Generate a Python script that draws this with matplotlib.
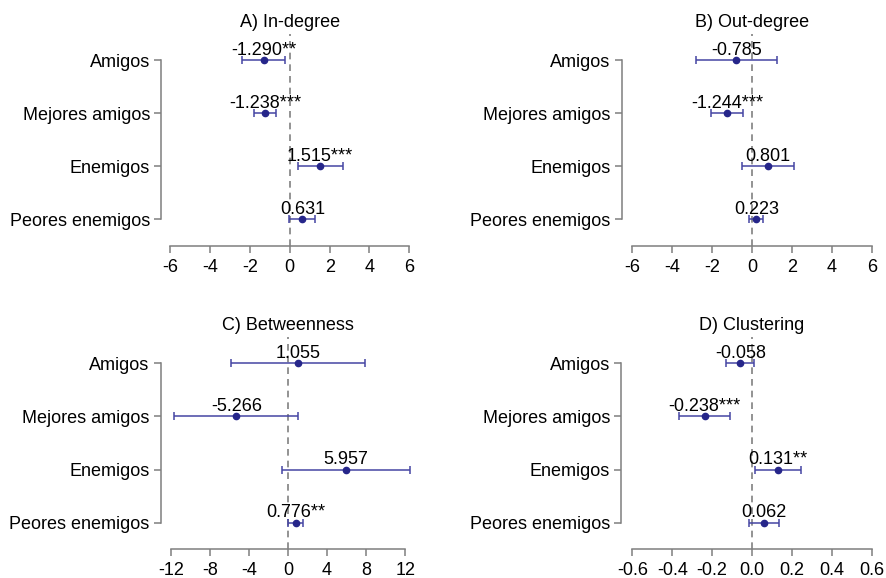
import numpy as np
import matplotlib
matplotlib.use('Agg')
import matplotlib.pyplot as plt

plt.rcParams['font.family'] = ['Liberation Sans', 'DejaVu Sans']

categories = ['Amigos', 'Mejores amigos', 'Enemigos', 'Peores enemigos']

# point estimates, CI bounds, significance stars per panel
indeg_est = [-1.290, -1.238, 1.515, 0.631]
indeg_lo = [-2.38, -1.79, 0.39, -0.03]
indeg_hi = [-0.24, -0.67, 2.65, 1.29]
indeg_sig = ['**', '***', '***', '']

outdeg_est = [-0.785, -1.244, 0.801, 0.223]
outdeg_lo = [-2.81, -2.04, -0.50, -0.15]
outdeg_hi = [1.25, -0.47, 2.09, 0.57]
outdeg_sig = ['', '***', '', '']

betw_est = [1.055, -5.266, 5.957, 0.776]
betw_lo = [-5.80, -11.66, -0.58, 0.03]
betw_hi = [7.88, 1.02, 12.45, 1.52]
betw_sig = ['', '', '', '**']

clust_est = [-0.058, -0.238, 0.131, 0.062]
clust_lo = [-0.132, -0.366, 0.013, -0.013]
clust_hi = [0.012, -0.112, 0.247, 0.135]
clust_sig = ['', '***', '**', '']

W, H = 886, 578
fig = plt.figure(figsize=(W / 100, H / 100), dpi=100)

line_col = '#4545a3'
pt_col = '#26268a'
axis_col = '#7f7f7f'


def panel(title, est, lo, hi, sig, ticks, spine_x, lo_px, hi_px, top, bottom):
    t0, t1 = ticks[0], ticks[-1]
    unit = (hi_px - lo_px) / (t1 - t0)
    marg = lo_px - spine_x
    right = hi_px + marg
    ax = fig.add_axes([spine_x / W, 1 - bottom / H, (right - spine_x) / W, (bottom - top) / H])
    ax.set_xlim(t0 - marg / unit, t1 + marg / unit)
    ax.set_ylim(0.5, 4.5)
    y = np.arange(len(categories))[::-1] + 1
    est = np.array(est)
    err = [est - np.array(lo), np.array(hi) - est]
    ax.axvline(0, color='#808080', ls=(0, (4, 3)), lw=1.2, zorder=1)
    ax.errorbar(est, y, xerr=err, fmt='none', ecolor=line_col, elinewidth=1.1,
                capsize=3, capthick=1.1, zorder=2)
    ax.plot(est, y, 'o', color=pt_col, ms=4.5, zorder=3)
    for e, yy, s in zip(est, y, sig):
        ax.annotate('{:.3f}{}'.format(e, s), (e, yy), xytext=(0, 3.8),
                    textcoords='offset points', ha='center', va='baseline', fontsize=13)
    ax.set_yticks(y)
    ax.set_yticklabels(categories, fontsize=13)
    ax.set_xticks(ticks)
    ax.set_xticklabels([('{:.1f}'.format(t) if isinstance(t, float) else str(t)) for t in ticks],
                       fontsize=13)
    for side in ['top', 'right']:
        ax.spines[side].set_visible(False)
    ax.spines['left'].set_bounds(1, 4)
    ax.spines['bottom'].set_bounds(t0, t1)
    for side in ['left', 'bottom']:
        ax.spines[side].set_color(axis_col)
        ax.spines[side].set_linewidth(1.1)
    ax.tick_params(axis='both', color=axis_col, length=5, width=1.1)
    ax.tick_params(axis='y', pad=3)
    ax.tick_params(axis='x', pad=4)
    ax.set_title(title, fontsize=13, pad=5)
    return ax


panel('A) In-degree', indeg_est, indeg_lo, indeg_hi, indeg_sig,
      [-6, -4, -2, 0, 2, 4, 6], 161, 170.3, 409.3, 33.5, 246)
panel('B) Out-degree', outdeg_est, outdeg_lo, outdeg_hi, outdeg_sig,
      [-6, -4, -2, 0, 2, 4, 6], 621.7, 632.3, 871.7, 33.5, 246)
panel('C) Betweenness', betw_est, betw_lo, betw_hi, betw_sig,
      [-12, -8, -4, 0, 4, 8, 12], 160.5, 170.7, 405.2, 336.7, 549.3)
panel('D) Clustering', clust_est, clust_lo, clust_hi, clust_sig,
      [-0.6, -0.4, -0.2, 0.0, 0.2, 0.4, 0.6], 621, 632.3, 871.7, 336.7, 549.3)

fig.savefig('out.png', dpi=100)
